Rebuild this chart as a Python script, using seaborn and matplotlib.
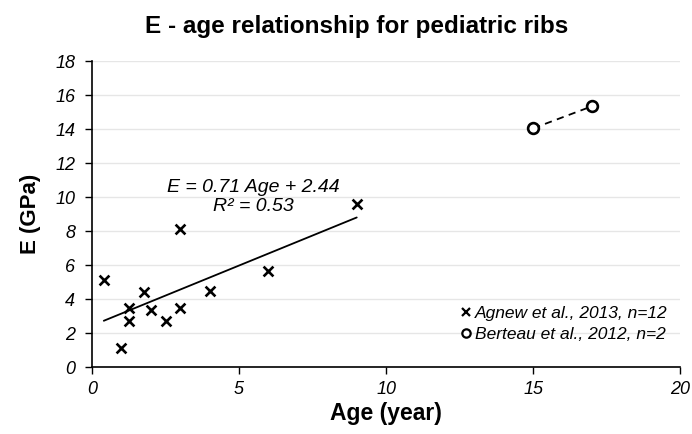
import numpy as np
import pandas as pd
import matplotlib
matplotlib.use("Agg")
import matplotlib.pyplot as plt
import seaborn as sns
from matplotlib.lines import Line2D

# Agnew et al., 2013 (n=12)
agnew_age = [0.4, 1.0, 1.25, 1.25, 1.75, 2.0, 2.5, 3.0, 3.0, 4.0, 6.0, 9.0]
agnew_e = [5.1, 1.1, 3.5, 2.7, 4.4, 3.35, 2.7, 8.1, 3.5, 4.5, 5.65, 9.6]

# Berteau et al., 2012 (n=2)
berteau_age = [15, 17]
berteau_e = [14.05, 15.35]

x_ticks = [0, 5, 10, 15, 20]
y_ticks = [0, 2, 4, 6, 8, 10, 12, 14, 16, 18]

fit_text = "E = 0.71 Age + 2.44\nR\u00b2 = 0.53"
labels = ["Agnew et al., 2013, n=12", "Berteau et al., 2012, n=2"]

df_a = pd.DataFrame({"age": agnew_age, "E": agnew_e})
df_b = pd.DataFrame({"age": berteau_age, "E": berteau_e})

sns.set_style("white")
plt.rcParams['font.family'] = ['Liberation Sans', 'DejaVu Sans']
plt.rcParams['text.color'] = 'black'
plt.rcParams['axes.labelcolor'] = 'black'
plt.rcParams['xtick.color'] = 'black'
plt.rcParams['ytick.color'] = 'black'

fig = plt.figure(figsize=(6.92, 4.34), dpi=100)
ax = fig.add_axes([0.133, 0.154, 0.850, 0.705])

ax.set_axisbelow(True)
ax.yaxis.grid(True, color='#e6e6e6', linewidth=1)

# linear fit through Agnew data
sns.regplot(data=df_a, x="age", y="E", scatter=False, ci=None, truncate=True,
            color='black', line_kws={'linewidth': 1.3}, ax=ax)

sns.scatterplot(data=df_a, x="age", y="E", marker='x', color='black', s=50,
                linewidth=1.9, ax=ax, legend=False, zorder=3)

sns.lineplot(data=df_b, x="age", y="E", color='black', linestyle=(0, (4, 3)),
             linewidth=1.3, ax=ax, legend=False)
sns.scatterplot(data=df_b, x="age", y="E", marker='o', facecolor='white',
                edgecolor='black', s=60, linewidth=1.9, ax=ax, legend=False, zorder=3)

ax.text(5.5, 10.02, fit_text, ha='center', va='center', fontsize=14,
        fontstyle='italic', linespacing=1.15)

ax.set_xlim(0, 20)
ax.set_ylim(0, 18)
ax.set_xticks(x_ticks)
ax.set_yticks(y_ticks)
ax.tick_params(axis='both', direction='out', length=5, width=1, color='black',
               labelsize=13, left=True, bottom=True)
ax.tick_params(axis='y', pad=7)
ax.tick_params(axis='x', pad=5)
for lab in ax.get_xticklabels() + ax.get_yticklabels():
    lab.set_fontstyle('italic')

for side in ['top', 'right']:
    ax.spines[side].set_visible(False)
for side in ['left', 'bottom']:
    ax.spines[side].set_color('black')
    ax.spines[side].set_linewidth(1.2)

ax.set_xlabel("Age (year)", fontsize=16.5, fontweight='bold', labelpad=3)
ax.set_ylabel("E (GPa)", fontsize=16, fontweight='bold', labelpad=10)
ax.set_title("E - age relationship for pediatric ribs", fontsize=17.5,
             fontweight='bold', pad=20, x=0.45)

handles = [
    Line2D([], [], marker='x', color='black', linestyle='none', markersize=6,
           markeredgewidth=1.6),
    Line2D([], [], marker='o', color='black', markerfacecolor='white',
           linestyle='none', markersize=6, markeredgewidth=1.6),
]
leg = ax.legend(handles, labels, loc='lower right', bbox_to_anchor=(1.005, 0.03),
                frameon=False, handlelength=0.6, handletextpad=0.2,
                labelspacing=0.35, prop={'style': 'italic', 'size': 12.5})

fig.savefig("out.png", dpi=100)
